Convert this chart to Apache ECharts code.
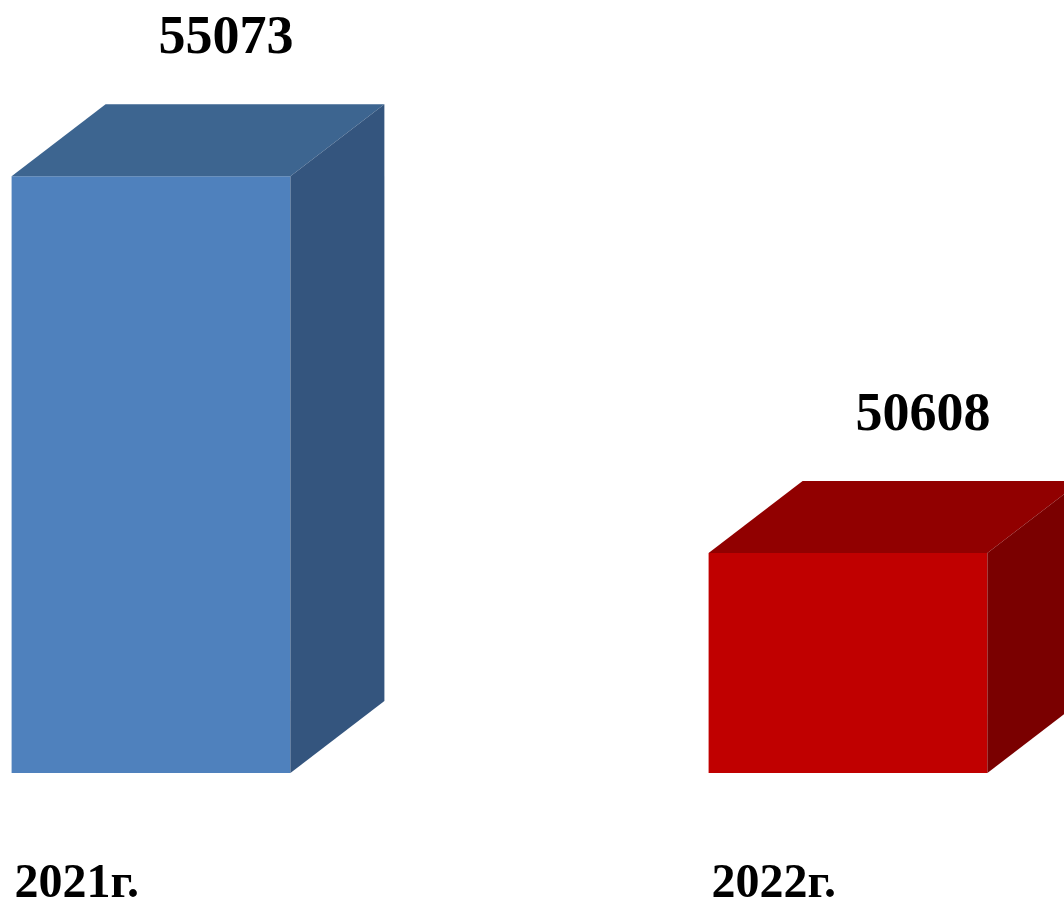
<!DOCTYPE html>
<html>
<head>
<meta charset="utf-8">
<script src="https://cdn.jsdelivr.net/npm/echarts@6/dist/echarts.min.js"></script>
<style>
html,body{margin:0;padding:0;background:#fff;}
#chart{width:1064px;height:904px;}
</style>
</head>
<body>
<div id="chart"></div>
<script>
var categories = ['2021г.', '2022г.'];
var values = [55073, 50608];
var frontColors = ['#4F81BD', '#C00000'];
var topColors = ['#3D6590', '#910000'];
var sideColors = ['#34557E', '#7A0000'];
var yMin = 48000;
var yMax = 56000;

var chart = echarts.init(document.getElementById('chart'));

function renderItem(params, api) {
  var i = params.dataIndex;
  var top = api.coord([api.value(0), api.value(1)]);
  var base = api.coord([api.value(0), yMin]);
  var bw = api.size([1, 0])[0] * 0.4;
  var x0 = top[0] - bw / 2, x1 = top[0] + bw / 2;
  var yT = top[1], yB = base[1];
  var dx = 94, dy = 72;
  return {
    type: 'group',
    children: [
      { type: 'polygon', shape: { points: [[x0, yT], [x1, yT], [x1, yB], [x0, yB]] }, style: { fill: frontColors[i] } },
      { type: 'polygon', shape: { points: [[x0, yT], [x0 + dx, yT - dy], [x1 + dx, yT - dy], [x1, yT]] }, style: { fill: topColors[i] } },
      { type: 'polygon', shape: { points: [[x1, yT], [x1 + dx, yT - dy], [x1 + dx, yB - dy], [x1, yB]] }, style: { fill: sideColors[i] } },
      { type: 'text', style: { text: String(values[i]), x: top[0] + 75, y: yT - 137, align: 'center', verticalAlign: 'middle', font: 'bold 54px "Liberation Serif"', fill: '#000' } },
      { type: 'text', style: { text: categories[i], x: x0 + 3, y: 885, align: 'left', verticalAlign: 'middle', font: 'bold 48px "Liberation Serif"', fill: '#000' } }
    ]
  };
}

chart.setOption({
  animation: false,
  backgroundColor: '#fff',
  grid: { left: 151, right: 216, top: 98, bottom: 131 },
  xAxis: { type: 'category', data: categories, boundaryGap: false, show: false },
  yAxis: { type: 'value', min: yMin, max: yMax, show: false },
  series: [{
    type: 'custom',
    renderItem: renderItem,
    clip: false,
    data: values.map(function (v, i) { return [i, v]; })
  }]
});
</script>
</body>
</html>
